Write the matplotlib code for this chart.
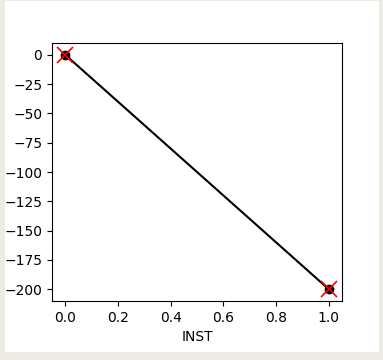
import matplotlib
matplotlib.use("Agg")
import matplotlib.pyplot as plt
from matplotlib.patches import Rectangle

# data
inst = [0.0, 1.0]
values = [0, -200]
xticks = [0.0, 0.2, 0.4, 0.6, 0.8, 1.0]
yticks = [0, -25, -50, -75, -100, -125, -150, -175, -200]

fig = plt.figure(figsize=(3.83, 3.6), dpi=100)
fig.patch.set_facecolor("#eeebe7")
# white page inside the beige frame
fig.patches.append(Rectangle((5/383, 8/360), 374/383, 351/360,
                             transform=fig.transFigure, facecolor="white",
                             edgecolor="none", zorder=-10))

ax = fig.add_axes([52/383, 59/360, 290/383, 258/360])
ax.plot(inst, values, color="black", linewidth=1.5)
ax.plot(inst, values, "o", color="black", markersize=6)
ax.plot(inst, values, "x", color="red", markersize=12, markeredgewidth=1.2)

ax.set_xticks(xticks)
ax.set_yticks(yticks)
ax.set_xlim(-0.05, 1.05)
ax.set_ylim(-210, 10)
ax.set_xlabel("INST")

fig.savefig("out.png", dpi=100, facecolor=fig.get_facecolor())
